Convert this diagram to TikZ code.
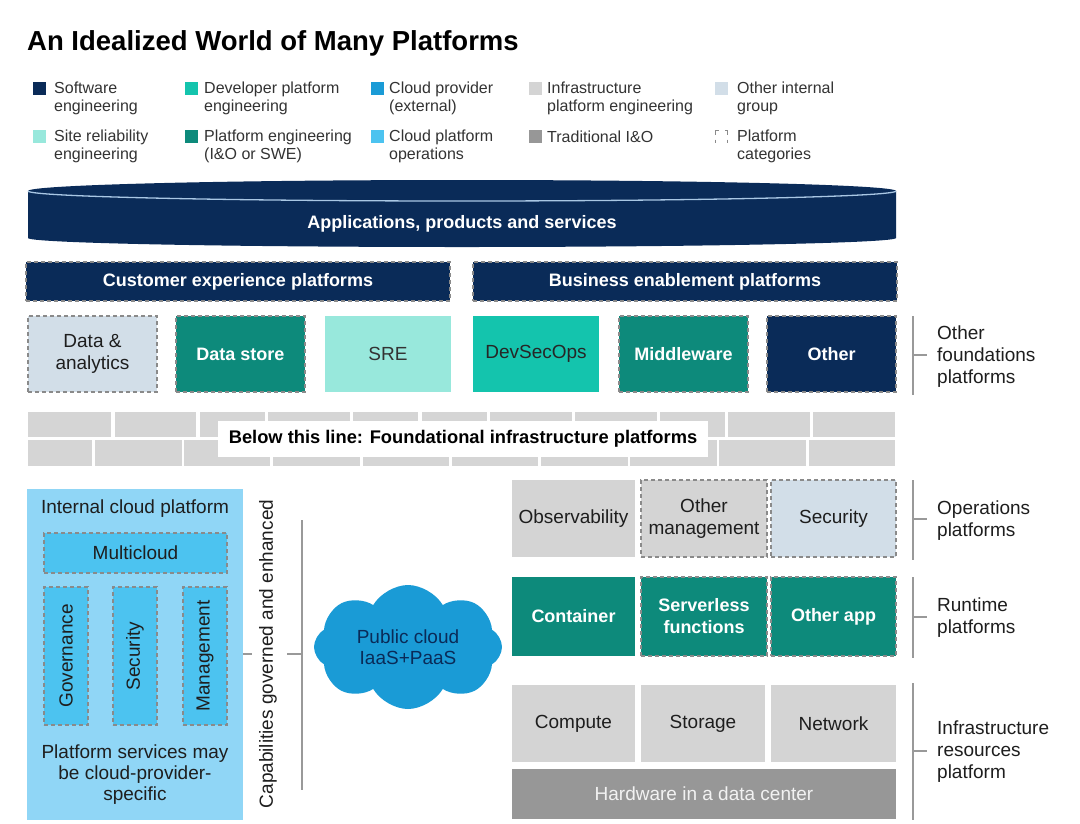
\documentclass[tikz,border=0pt]{standalone}
\usepackage{fontspec}
\setmainfont{Liberation Sans}
\usetikzlibrary{shapes.symbols}
\definecolor{navy}{HTML}{0A2B58}
\definecolor{turq}{HTML}{14C4AD}
\definecolor{cloudblue}{HTML}{1A9BD6}
\definecolor{infgray}{HTML}{D4D4D4}
\definecolor{othergrp}{HTML}{D2DEE8}
\definecolor{mint}{HTML}{98E8DC}
\definecolor{teal}{HTML}{0D8A7B}
\definecolor{cpops}{HTML}{4CC3F0}
\definecolor{tradgray}{HTML}{979797}
\definecolor{icpbg}{HTML}{90D6F6}
\definecolor{dashgray}{HTML}{8A8A8A}
\definecolor{txt}{HTML}{1E1E1E}
\definecolor{lgtxt}{HTML}{333333}
\definecolor{brick}{HTML}{D5D5D5}
\definecolor{brline}{HTML}{999999}
\definecolor{rimline}{HTML}{A9C7E4}
\tikzset{
  box/.style={rectangle, inner sep=0pt, align=center, font=\fontsize{19}{22}\selectfont, text=txt},
  dbox/.style={box, draw=dashgray, dash pattern=on 4pt off 3pt, line width=1.4pt},
  wtxt/.style={text=white, font=\fontsize{18}{22}\selectfont\bfseries},
  lg/.style={anchor=west, align=left, inner sep=0pt, font=\fontsize{16}{18}\selectfont, text=lgtxt},
  lsq/.style={inner sep=0pt, minimum size=13pt},
  rlab/.style={anchor=west, align=left, inner sep=0pt, font=\fontsize{19}{22}\selectfont, text=txt},
  br/.style={draw=brline, line width=1.3pt},
  brk/.style={fill=brick}
}
\begin{document}
\begin{tikzpicture}[x=1pt,y=-1pt]
\useasboundingbox (0,0) rectangle (1080,823);
\fill[white] (0,0) rectangle (1080,823);

% title
\node[anchor=base west, inner sep=0pt, font=\fontsize{27.5}{32}\selectfont\bfseries] (title) at (27,50) {An Idealized World of Many Platforms};

% legend
\node[lsq, fill=navy] (l1) at (39.5,88.5) {};
\node[lg] (t1) at (54,98) {Software\\engineering};
\node[lsq, fill=mint] (l2) at (39.5,136.5) {};
\node[lg] (t2) at (54,146) {Site reliability\\engineering};
\node[lsq, fill=turq] (l3) at (191.5,88.5) {};
\node[lg] (t3) at (204,98) {Developer platform\\engineering};
\node[lsq, fill=teal] (l4) at (191.5,136.5) {};
\node[lg] (t4) at (204,146) {Platform engineering\\(I\&O or SWE)};
\node[lsq, fill=cloudblue] (l5) at (377.5,88.5) {};
\node[lg] (t5) at (389,98) {Cloud provider\\(external)};
\node[lsq, fill=cpops] (l6) at (377.5,136.5) {};
\node[lg] (t6) at (389,146) {Cloud platform\\operations};
\node[lsq, fill=infgray] (l7) at (535.5,88.5) {};
\node[lg] (t7) at (547,98) {Infrastructure\\platform engineering};
\node[lsq, fill=tradgray] (l8) at (535.5,136.5) {};
\node[lg] (t8) at (547,137) {Traditional I\&O};
\node[lsq, fill=othergrp] (l9) at (721.5,88.5) {};
\node[lg] (t9) at (737,98) {Other internal\\group};
\coordinate (l10) at (721.5,136.5);
\begin{scope}[draw=dashgray, line width=1.2pt]
  \draw ([shift={(-6,-2)}]l10) -- ++(0,-4) -- ++(3,0);
  \draw ([shift={(6,-2)}]l10) -- ++(0,-4) -- ++(-3,0);
  \draw ([shift={(-6,3)}]l10) -- ++(0,3);
  \draw ([shift={(6,3)}]l10) -- ++(0,3);
\end{scope}
\node[lg] (t10) at (737,146) {Platform\\categories};

% cylinder
\fill[navy] (28,191) -- (28,238) arc[x radius=434, y radius=9, start angle=180, end angle=0]
  -- (896,191) arc[x radius=434, y radius=11, start angle=0, end angle=-180] -- cycle;
\draw[rimline, line width=1.3pt] (28,191) arc[x radius=434, y radius=10, start angle=180, end angle=0];
\node[wtxt, inner sep=0pt] (apps) at (462,224) {Applications, products and services};

% customer / business
\node[dbox, fill=navy, minimum width=424pt, minimum height=39pt, wtxt] (cust) at (238,281.5) {Customer experience platforms};
\node[dbox, fill=navy, minimum width=424pt, minimum height=39pt, wtxt] (bus) at (685,281.5) {Business enablement platforms};

% other foundations row
\node[dbox, fill=othergrp, minimum width=129pt, minimum height=76pt] (dataan) at (92.5,354) {Data \&\\analytics};
\node[dbox, fill=teal, minimum width=129pt, minimum height=76pt, wtxt] (datastore) at (240.5,354) {Data store};
\node[box, fill=mint, minimum width=126pt, minimum height=76pt, text=black!80] (sre) at (388,354) {SRE};
\node[box, fill=turq, minimum width=126pt, minimum height=76pt, text=black!85] (devsecops) at (536,354) {DevSecOps};
\node[dbox, fill=teal, minimum width=129pt, minimum height=76pt, wtxt] (middleware) at (683.5,354) {Middleware};
\node[dbox, fill=navy, minimum width=129pt, minimum height=76pt, wtxt] (other) at (831.5,354) {Other};

\coordinate (b1top) at (913,316);
\coordinate (b1bot) at (913,395);
\coordinate (b1mid) at (913,355);
\draw[br] (b1top) -- (b1bot);
\draw[br] (b1mid) -- ++(14,0);
\node[rlab] (lab1) at (937,357) {Other\\foundations\\platforms};

% brick wall
\foreach \a/\b in {28/111,115/196,200/265,268/350,353/418,422/487,490/572,575/657,660/725,728/810,813/895}
  \fill[brk] (\a,412) rectangle (\b,437);
\foreach \a/\b in {28/92,95/182,184/270,273/360,363/449,452/538,541/628,630/717,719/806,809/895}
  \fill[brk] (\a,440) rectangle (\b,466);
\node[fill=white, minimum width=490pt, minimum height=36pt, inner sep=0pt, font=\fontsize{18.3}{22}\selectfont\bfseries, text=black] (below) at (463,439) {Below this line: Foundational infrastructure platforms};

% internal cloud platform
\node[box, fill=icpbg, minimum width=216pt, minimum height=331pt] (icp) at (135,654.5) {};
\node[box] (icptitle) at (135,509) {Internal cloud platform};
\node[dbox, fill=cpops, minimum width=183pt, minimum height=40pt] (multi) at (135.5,553) {Multicloud};
\node[dbox, fill=cpops, minimum width=44pt, minimum height=138pt] (gov) at (66,656) {};
\node[box, rotate=90] (govt) at (gov.center) {Governance};
\node[dbox, fill=cpops, minimum width=44pt, minimum height=138pt] (sec) at (135,656) {};
\node[box, rotate=90] (sect) at (sec.center) {Security};
\node[dbox, fill=cpops, minimum width=44pt, minimum height=138pt] (mgmt) at (205,656) {};
\node[box, rotate=90] (mgmtt) at (mgmt.center) {Management};
\node[box, font=\fontsize{19}{21}\selectfont] (pss) at (135,775) {Platform services may\\be cloud-provider-\\specific};

% capabilities bracket
\node[box, rotate=90] (cap) at (268,654) {Capabilities governed and enhanced};
\coordinate (captop) at (302,520);
\coordinate (capbot) at (302,790);
\coordinate (capmid) at (302,654);
\draw[br] (captop) -- (capbot);
\draw[br] (capmid) -- ++(-15,0);
\draw[br] (icp.east |- capmid) -- ++(9,0);

% public cloud
\node[cloud, cloud puffs=8, cloud puff arc=120, aspect=1.5, fill=cloudblue, minimum width=188pt, minimum height=124pt, inner sep=0pt, align=center, text=navy, font=\fontsize{19}{21}\selectfont] (pub) at (408,647) {Public cloud\\IaaS+PaaS};

% operations
\node[box, fill=infgray, minimum width=123pt, minimum height=77pt] (obs) at (573.5,518.5) {Observability};
\node[dbox, fill=infgray, minimum width=126pt, minimum height=77pt] (omgmt) at (704,518.5) {Other\\management};
\node[dbox, fill=othergrp, minimum width=125pt, minimum height=77pt] (osec) at (833.5,518.5) {Security};
\coordinate (b2top) at (913,480);
\coordinate (b2bot) at (913,560);
\coordinate (b2mid) at (913,519);
\draw[br] (b2top) -- (b2bot);
\draw[br] (b2mid) -- ++(14,0);
\node[rlab] (lab2) at (937,521) {Operations\\platforms};

% runtime
\node[box, fill=teal, minimum width=123pt, minimum height=79pt, wtxt] (cont) at (573.5,616.5) {Container};
\node[dbox, fill=teal, minimum width=126pt, minimum height=79pt, wtxt] (sless) at (704,616.5) {Serverless\\functions};
\node[dbox, fill=teal, minimum width=125pt, minimum height=79pt, wtxt] (oapp) at (833.5,616.5) {Other app};
\coordinate (b3top) at (913,577);
\coordinate (b3bot) at (913,658);
\coordinate (b3mid) at (913,617);
\draw[br] (b3top) -- (b3bot);
\draw[br] (b3mid) -- ++(14,0);
\node[rlab] (lab3) at (937,618) {Runtime\\platforms};

% infrastructure
\node[box, fill=infgray, minimum width=123pt, minimum height=77pt] (comp) at (573.5,723.5) {Compute};
\node[box, fill=infgray, minimum width=124pt, minimum height=77pt] (stor) at (703,723.5) {Storage};
\node[box, fill=infgray, minimum width=125pt, minimum height=77pt] (net) at (833.5,723.5) {Network};
\node[box, fill=tradgray, minimum width=384pt, minimum height=50pt, text=white!95!black, font=\fontsize{19}{22}\selectfont] (hw) at (704,794) {Hardware in a data center};
\coordinate (b4top) at (913,683);
\coordinate (b4bot) at (913,820);
\coordinate (b4mid) at (913,751);
\draw[br] (b4top) -- (b4bot);
\draw[br] (b4mid) -- ++(14,0);
\node[rlab] (lab4) at (937,752) {Infrastructure\\resources\\platform};
\end{tikzpicture}
\end{document}
